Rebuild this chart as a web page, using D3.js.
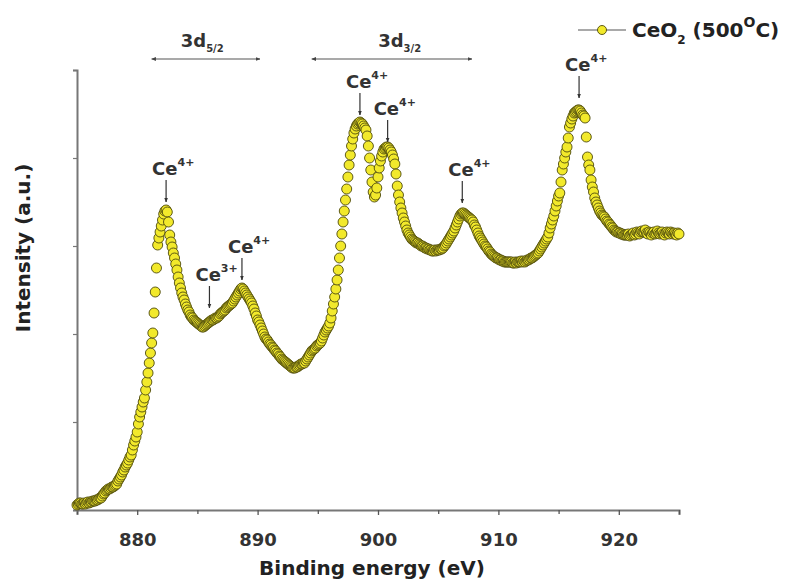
<!DOCTYPE html>
<html><head><meta charset="utf-8">
<script src="https://cdn.jsdelivr.net/npm/d3@7"></script>
<style>
body{margin:0;background:#fff}
svg{display:block}
text{font-family:"DejaVu Sans",Verdana,sans-serif}
</style>
</head><body>
<svg id="chart" width="795" height="582"></svg>
<script>
// Binding energy grid: 875.0 eV to 925.0 eV, 0.1 eV step (one row = 1 eV)
const energyStart = 875.0;
const energyStep = 0.1;
const intensity = [
  5,6,7,7,6,6,7,6,7,8,
  7,8,8,9,9,9,10,10,11,12,
  12,14,16,17,19,20,21,21,22,23,
  23,24,25,26,29,31,33,35,38,40,
  43,45,47,50,53,55,60,65,69,73,
  78,86,93,98,103,108,112,120,128,137,
  147,157,167,177,197,218,242,265,272,278,
  284,290,296,299,300,298,288,275,268,263,
  257,252,246,240,233,227,222,217,213,210,
  206,203,200,198,195,193,192,190,189,188,
  187,186,185,184,183,183,184,185,186,187,
  188,189,190,190,191,192,192,193,194,196,
  197,198,199,200,202,203,204,205,206,207,
  209,211,213,215,217,219,221,222,221,219,
  217,215,213,211,209,207,204,201,197,194,
  190,188,185,182,179,176,173,171,170,168,
  166,165,163,162,160,159,157,156,154,153,
  151,150,149,148,147,146,145,144,143,142,
  142,142,143,143,144,145,146,146,147,147,
  149,151,153,155,157,159,160,161,162,164,
  165,166,167,169,172,175,178,180,182,184,
  187,192,199,206,213,221,230,240,252,264,
  276,288,299,310,321,333,345,355,364,371,
  377,381,384,386,387,388,387,386,384,382,
  380,374,364,352,340,328,318,313,315,322,
  333,342,349,354,358,361,362,363,363,362,
  360,358,355,351,346,336,324,315,308,302,
  297,292,288,284,280,277,275,273,271,270,
  269,268,267,267,266,265,264,264,263,262,
  262,261,261,260,260,259,259,260,259,260,
  260,260,261,261,262,264,265,267,269,271,
  273,275,277,279,282,285,288,291,294,296,
  297,297,296,295,294,293,292,291,290,288,
  285,283,280,277,274,272,270,268,266,264,
  263,261,259,258,256,255,254,253,252,252,
  251,250,250,249,249,248,248,248,248,248,
  248,248,247,247,248,247,248,248,248,249,
  248,249,248,249,250,250,251,252,252,253,
  254,255,256,257,259,261,263,265,267,269,
  271,273,277,282,286,290,294,299,304,309,
  314,317,328,340,346,352,358,363,372,383,
  387,391,394,397,398,399,400,400,399,397,
  395,394,392,373,353,345,340,330,323,318,
  312,308,305,302,299,297,295,294,293,291,
  289,288,286,285,283,282,280,279,278,278,
  277,277,276,276,275,275,275,275,276,274,
  275,276,277,275,276,278,277,276,278,279,
  278,278,280,277,276,278,277,275,277,278,
  276,277,279,277,276,277,278,276,275,277,
  278,277,276,278,277,276,277,276,275,277,
  276
];
const xDomain = [875, 925];
const xTicksMajor = [880, 890, 900, 910, 920];
const xTicksMinor = [875, 885, 895, 905, 915, 925];
const yDomain = [0, 440];
const yTicks = [0, 88, 176, 264, 352, 440];

// peak annotations
const peakEnergy = [882.4, 886.0, 888.7, 898.5, 900.8, 907.0, 916.7];
const peakArrowTip = [308, 202, 230, 395, 368, 307, 412];
const peakIon = ["4+", "3+", "4+", "4+", "4+", "4+", "4+"];

// spin-orbit band annotations
const bandLabel = ["3d", "3d"];
const bandSub = ["5/2", "3/2"];
const bandFrom = [881.2, 894.5];
const bandTo = [890.2, 907.8];
const bandCenter = [885.4, 901.8];
const bandLevel = 451;

const seriesName = "CeO";

const data = intensity.map((v, i) => ({e: energyStart + i * energyStep, v}));

const svg = d3.select("#chart");
const x = d3.scaleLinear().domain(xDomain).range([77, 679]);
const y = d3.scaleLinear().domain(yDomain).range([510, 70]);

const defs = svg.append("defs");
function marker(id, color, size) {
  defs.append("marker").attr("id", id).attr("viewBox", "0 0 10 10")
    .attr("refX", 9).attr("refY", 5).attr("markerWidth", size).attr("markerHeight", size)
    .attr("orient", "auto-start-reverse")
    .append("path").attr("d", "M0,1 L10,5 L0,9 z").attr("fill", color);
}
marker("ah", "#333", 4);
marker("ah2", "#444", 4);

const axisColor = "#777";
// x axis
const gx = svg.append("g").attr("transform", "translate(0,510)");
gx.call(d3.axisBottom(x).tickValues(xTicksMajor).tickSize(5).tickFormat(d3.format("d")));
gx.select(".domain").attr("stroke", axisColor).attr("stroke-width", 2);
gx.selectAll(".tick line").attr("stroke", "#555").attr("stroke-width", 1.3);
gx.selectAll(".tick text").attr("y", 36).attr("dy", null)
  .attr("font-size", 18).attr("font-weight", "bold").attr("fill", "#333")
  .attr("font-family", "DejaVu Sans, Verdana, sans-serif");
const gxm = svg.append("g").attr("transform", "translate(0,510)");
gxm.call(d3.axisBottom(x).tickValues(xTicksMinor).tickSize(4).tickFormat(""));
gxm.select(".domain").remove();
gxm.selectAll(".tick line").attr("stroke", "#555").attr("stroke-width", 1.3);

// y axis
const gy = svg.append("g").attr("transform", "translate(77,0)");
gy.call(d3.axisLeft(y).tickValues(yTicks).tickSize(4).tickFormat(""));
gy.select(".domain").attr("stroke", axisColor).attr("stroke-width", 2);
gy.selectAll(".tick line").attr("stroke", "#777").attr("stroke-width", 1.2);

// axis titles
svg.append("text").attr("x", 372).attr("y", 575)
  .attr("text-anchor", "middle").attr("font-size", 20).attr("font-weight", "bold").attr("fill", "#222")
  .text("Binding energy (eV)");
svg.append("text").attr("transform", "translate(30,248) rotate(-90)")
  .attr("text-anchor", "middle").attr("font-size", 20).attr("font-weight", "bold").attr("fill", "#222")
  .text("Intensity (a.u.)");

// data points
svg.append("g").selectAll("circle").data(data).join("circle")
  .attr("cx", d => x(d.e)).attr("cy", d => y(d.v)).attr("r", 5)
  .attr("fill", "#f2e92b").attr("stroke", "#4d4a0c").attr("stroke-width", 0.9);

// peak annotations
const pk = svg.append("g");
peakEnergy.forEach((e, i) => {
  const px = x(e), tipY = y(peakArrowTip[i]);
  const topY = tipY - 22;
  pk.append("line").attr("x1", px).attr("x2", px).attr("y1", topY).attr("y2", tipY)
    .attr("stroke", "#333").attr("stroke-width", 1.2).attr("marker-end", "url(#ah)");
  const t = pk.append("text").attr("x", px - 14).attr("y", topY - 5)
    .attr("font-size", 18).attr("font-weight", "bold").attr("fill", "#333");
  t.append("tspan").text("Ce");
  t.append("tspan").attr("dy", -9).attr("font-size", 11).text(peakIon[i]);
});

// band annotations
const bd = svg.append("g");
bandLabel.forEach((lab, i) => {
  bd.append("line").attr("x1", x(bandFrom[i])).attr("x2", x(bandTo[i]))
    .attr("y1", y(bandLevel)).attr("y2", y(bandLevel))
    .attr("stroke", "#555").attr("stroke-width", 1.2)
    .attr("marker-start", "url(#ah2)").attr("marker-end", "url(#ah2)");
  const t = bd.append("text").attr("x", x(bandCenter[i])).attr("y", 47)
    .attr("text-anchor", "middle").attr("font-size", 18).attr("font-weight", "bold").attr("fill", "#333");
  t.append("tspan").text(lab);
  t.append("tspan").attr("dy", 5).attr("font-size", 10).text(bandSub[i]);
});

// legend
const lg = svg.append("g");
lg.append("line").attr("x1", 578).attr("x2", 626).attr("y1", 30).attr("y2", 30)
  .attr("stroke", "#555").attr("stroke-width", 1.2);
lg.append("circle").attr("cx", 602).attr("cy", 30).attr("r", 4.5)
  .attr("fill", "#f2e92b").attr("stroke", "#4d4a0c").attr("stroke-width", 0.9);
const lt = lg.append("text").attr("x", 632).attr("y", 37)
  .attr("font-size", 20).attr("font-weight", "bold").attr("fill", "#222");
lt.append("tspan").text(seriesName);
lt.append("tspan").attr("dy", 7).attr("font-size", 12).text("2");
lt.append("tspan").attr("dy", -7).text(" (500");
lt.append("tspan").attr("dy", -10).attr("font-size", 14).text("O");
lt.append("tspan").attr("dy", 10).text("C)");
</script>
</body></html>
